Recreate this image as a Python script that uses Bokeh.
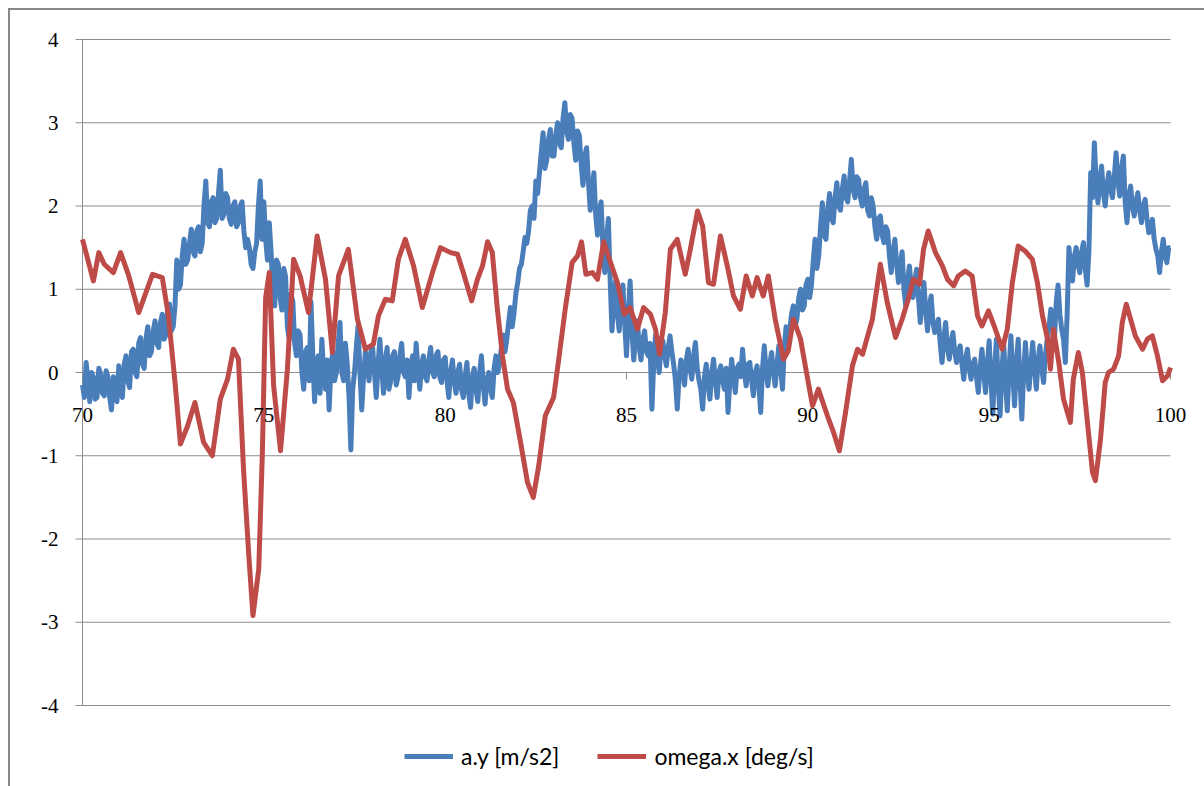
from bokeh.plotting import figure
from bokeh.models import Range1d, Legend, LegendItem, LabelSet, ColumnDataSource
from bokeh.embed import file_html
from bokeh.resources import INLINE

# ---------------- data ----------------
Y_TICKS = [-4, -3, -2, -1, 0, 1, 2, 3, 4]
Y_LABELS = ["-4", "-3", "-2", "-1", "0", "1", "2", "3", "4"]
X_TICKS = [70, 75, 80, 85, 90, 95, 100]
X_LABELS = ["70", "75", "80", "85", "90", "95", "100"]

# a.y [m/s2], read at t = 70.0, 70.1, ... 100.0
BLUE_Y_A = [
    -0.15, 0.12, -0.35, -0.05, -0.30, -0.02, -0.28, -0.05, -0.45, -0.10,
    0.08, -0.30, 0.20, -0.18, 0.28, -0.05, 0.42, 0.05, 0.55, 0.25,
    0.62, 0.30, 0.70, 0.45, 0.82, 0.55, 1.35, 1.05, 1.60, 1.35,
    1.72, 1.40, 1.75, 1.55, 2.30, 1.75, 2.10, 1.85, 2.43, 1.90,
    2.10, 1.78, 2.05, 1.80, 2.05, 1.50, 1.50, 1.25, 1.55, 2.30,
    2.05, 1.35, 1.45, 0.80, 1.30, 0.75, 1.15, 0.40, 0.85, 0.20,
    0.45, -0.20, 0.30, 0.85, -0.35, 0.20, 0.40, -0.20, -0.45, 0.25,
    0.00, 0.60, -0.10, 0.10, -0.93, 0.00, 0.56, -0.45, 0.25, -0.10,
    0.30, -0.30, 0.40, -0.25, 0.30, -0.10, 0.25, -0.05, 0.35, -0.05,
    -0.30, 0.20, 0.35, -0.20, 0.20, -0.10, 0.30, -0.05, 0.25, -0.12,
    0.18, -0.30, 0.15, -0.25, 0.10, -0.30, 0.12, -0.42, 0.05, -0.35,
    0.20, -0.38, 0.00, -0.30, 0.20, 0.10, 0.45, 0.40, 0.78, 0.72,
    1.08, 1.30, 1.62, 1.70, 2.00, 2.30, 2.40, 2.88, 2.55, 2.92,
    2.60, 3.00, 2.70, 3.24, 2.80, 3.05, 2.55, 2.85, 2.25, 2.70,
    1.95, 2.40, 1.65, 2.05, 1.20, 1.85, 0.50, 1.10, 0.50, 1.05,
    0.20, 1.10, 0.15, 0.62, 0.15, 0.50, 0.20, -0.44, 0.45, 0.00,
    0.38, 0.08, 0.44, 0.10, -0.44, 0.15, -0.15, 0.28, -0.08, 0.36,
    -0.10, -0.44, 0.10, -0.32, 0.16, -0.30, 0.08, -0.20, -0.48, 0.16,
    -0.24, 0.10, 0.28, -0.16, 0.12, -0.28, 0.08, -0.48, 0.32, -0.16,
    0.24, -0.16, 0.32, -0.20, 0.55, 0.50, 0.80, 0.65, 1.00, 0.80,
    1.12, 1.05, 1.60, 1.40, 2.04, 1.60, 2.15, 1.80, 2.28, 1.95,
    2.36, 2.05, 2.56, 2.10, 2.32, 2.00, 2.28, 1.88, 2.00, 1.60,
    1.88, 1.56, 1.70, 1.20, 1.60, 1.08, 1.45, 0.80, 1.28, 0.90,
    1.24, 0.60, 1.08, 0.50, 0.92, 0.48, 0.64, 0.12, 0.60, 0.16,
    0.48, 0.12, 0.32, -0.08, 0.28, -0.08, 0.16, -0.24, 0.28, -0.24,
    0.38, -0.50, 0.40, -0.52, 0.35, -0.46, 0.44, -0.40, 0.40, -0.56,
    0.36, -0.20, 0.36, -0.20, 0.32, -0.12, 0.40, 0.76, 0.40, 1.05,
    0.52, 0.12, 1.50, 1.10, 1.50, 1.20, 1.56, 1.05, 2.40, 2.76,
    2.04, 2.48, 2.00, 2.40, 2.10, 2.64, 2.12, 2.60, 1.80, 2.24,
    1.88, 2.16, 1.80, 2.08, 1.68, 1.84, 1.48, 1.20, 1.60, 1.32,
    1.50,
]
# a.y [m/s2], read at t = 70.05, 70.15, ... 99.95
BLUE_Y_B = [
    -0.30, -0.10, 0.00, -0.32, 0.05, -0.25, 0.02, -0.30, -0.05, -0.35,
    -0.20, 0.10, -0.10, 0.25, 0.00, 0.35, 0.10, 0.40, 0.20, 0.50,
    0.35, 0.60, 0.40, 0.75, 0.50, 0.80, 1.00, 1.40, 1.30, 1.55,
    1.45, 1.70, 1.45, 2.00, 1.80, 2.05, 1.80, 2.15, 1.85, 2.15,
    1.85, 2.00, 1.75, 2.00, 1.70, 1.60, 1.30, 1.45, 2.00, 1.60,
    1.60, 1.80, 0.95, 1.35, 0.90, 1.25, 0.55, 0.95, 0.35, 0.50,
    0.00, 0.25, -0.10, 0.20, 0.10, -0.25, 0.00, 0.15, 0.05, -0.10,
    0.35, 0.00, 0.35, -0.30, -0.20, 0.30, 0.00, -0.05, 0.10, 0.25,
    0.00, 0.10, 0.05, 0.15, -0.20, 0.20, -0.15, 0.20, 0.00, 0.15,
    0.05, -0.10, 0.05, 0.10, -0.05, 0.15, 0.00, 0.20, -0.05, 0.15,
    -0.10, 0.00, -0.10, 0.00, -0.20, -0.05, -0.25, -0.05, -0.20, 0.00,
    -0.15, -0.10, -0.20, 0.05, 0.00, 0.30, 0.25, 0.60, 0.55, 0.95,
    1.25, 1.45, 1.55, 1.95, 1.85, 2.15, 2.65, 2.45, 2.80, 2.60,
    2.85, 2.75, 3.05, 2.90, 3.10, 2.75, 2.90, 2.50, 2.60, 2.30,
    2.20, 1.90, 1.95, 1.50, 1.60, 1.10, 0.90, 0.70, 0.85, 0.60,
    0.70, 0.50, 0.45, 0.30, 0.40, 0.25, 0.35, 0.10, 0.20, 0.30,
    0.20, 0.30, 0.25, -0.10, -0.05, 0.05, 0.15, 0.05, 0.20, 0.05,
    -0.20, -0.05, -0.15, 0.00, -0.10, 0.00, -0.10, 0.05, -0.10, -0.05,
    0.05, -0.05, 0.00, 0.10, -0.10, 0.00, -0.15, 0.05, 0.00, 0.10,
    0.00, 0.10, 0.05, 0.30, 0.35, 0.70, 0.55, 0.90, 0.75, 1.05,
    0.90, 1.35, 1.25, 1.75, 1.65, 1.95, 1.85, 2.10, 2.00, 2.20,
    2.10, 2.30, 2.20, 2.35, 2.10, 2.20, 1.95, 2.10, 1.75, 1.85,
    1.65, 1.75, 1.40, 1.45, 1.30, 1.30, 1.00, 1.10, 1.05, 1.10,
    0.90, 0.85, 0.75, 0.80, 0.60, 0.55, 0.35, 0.40, 0.30, 0.35,
    0.25, 0.25, 0.10, 0.15, 0.05, 0.10, -0.05, 0.05, 0.00, 0.10,
    -0.10, 0.05, -0.15, 0.00, -0.10, 0.05, 0.00, 0.10, -0.10, 0.00,
    0.00, 0.10, 0.05, 0.15, 0.05, 0.20, 0.55, 0.60, 0.85, 0.70,
    0.40, 0.70, 1.25, 1.40, 1.30, 1.45, 1.25, 1.45, 2.10, 2.30,
    2.30, 2.15, 2.25, 2.20, 2.35, 2.30, 2.45, 2.05, 2.10, 2.00,
    2.05, 1.95, 2.00, 1.85, 1.75, 1.60, 1.40, 1.45, 1.40, 1.50,
]

# omega.x [deg/s]
RED_X = [
    70.0, 70.3, 70.45, 70.6, 70.85, 71.05, 71.27, 71.55, 71.93, 72.2,
    72.37, 72.56, 72.7, 72.9, 73.1, 73.34, 73.58, 73.8, 74.0, 74.16,
    74.3, 74.44, 74.58, 74.7, 74.86, 74.96, 75.05, 75.15, 75.27, 75.46,
    75.65, 75.82, 76.0, 76.23, 76.47, 76.7, 76.89, 77.06, 77.33, 77.58,
    77.8, 78.02, 78.16, 78.35, 78.54, 78.71, 78.9, 79.13, 79.37, 79.65,
    79.87, 80.15, 80.34, 80.5, 80.73, 80.89, 81.03, 81.17, 81.3, 81.44,
    81.58, 81.72, 81.88, 82.08, 82.27, 82.43, 82.58, 82.76, 82.99, 83.12,
    83.31, 83.5, 83.65, 83.76, 83.88, 84.06, 84.2, 84.37, 84.56, 84.75,
    84.94, 85.1, 85.3, 85.47, 85.66, 85.8, 85.91, 86.07, 86.21, 86.4,
    86.62, 86.76, 86.96, 87.1, 87.26, 87.4, 87.59, 87.78, 87.95, 88.14,
    88.3, 88.47, 88.6, 88.77, 88.91, 89.1, 89.33, 89.46, 89.6, 89.8,
    89.93, 90.13, 90.29, 90.54, 90.71, 90.87, 91.04, 91.23, 91.37, 91.51,
    91.65, 91.78, 92.0, 92.19, 92.42, 92.6, 92.77, 92.91, 93.08, 93.19,
    93.32, 93.52, 93.71, 93.85, 94.02, 94.15, 94.34, 94.53, 94.68, 94.8,
    94.98, 95.17, 95.36, 95.5, 95.64, 95.8, 95.99, 96.19, 96.33, 96.47,
    96.61, 96.69, 96.77, 96.92, 97.05, 97.24, 97.32, 97.46, 97.57, 97.71,
    97.85, 97.93, 98.07, 98.2, 98.29, 98.43, 98.57, 98.67, 98.78, 98.9,
    99.03, 99.23, 99.36, 99.5, 99.64, 99.78, 99.92, 100.0,
]
RED_Y = [
    1.60, 1.10, 1.44, 1.30, 1.20, 1.44, 1.17, 0.72, 1.18, 1.14,
    0.68, -0.16, -0.86, -0.64, -0.36, -0.84, -1.00, -0.32, -0.08, 0.28,
    0.16, -1.16, -2.16, -2.92, -2.36, -0.96, 0.90, 1.20, -0.16, -0.94,
    0.04, 1.36, 1.16, 0.72, 1.64, 1.12, 0.24, 1.16, 1.48, 0.64,
    0.28, 0.34, 0.68, 0.88, 0.86, 1.36, 1.60, 1.28, 0.78, 1.20,
    1.50, 1.44, 1.42, 1.20, 0.86, 1.12, 1.28, 1.57, 1.44, 0.76,
    0.20, -0.20, -0.36, -0.84, -1.32, -1.50, -1.12, -0.52, -0.30, 0.12,
    0.76, 1.32, 1.40, 1.57, 1.18, 1.20, 1.12, 1.57, 1.32, 1.08,
    0.70, 0.78, 0.52, 0.78, 0.70, 0.52, 0.22, 0.72, 1.48, 1.60,
    1.18, 1.48, 1.94, 1.76, 1.08, 1.06, 1.64, 1.28, 0.92, 0.76,
    1.16, 0.92, 1.14, 0.92, 1.16, 0.64, 0.16, 0.26, 0.64, 0.40,
    0.08, -0.40, -0.20, -0.52, -0.72, -0.94, -0.48, 0.08, 0.28, 0.22,
    0.44, 0.64, 1.30, 0.84, 0.42, 0.64, 0.88, 1.12, 1.06, 1.48,
    1.70, 1.44, 1.28, 1.12, 1.04, 1.16, 1.22, 1.16, 0.68, 0.56,
    0.74, 0.52, 0.28, 0.52, 1.08, 1.52, 1.46, 1.36, 1.08, 0.68,
    0.40, 0.04, 0.52, 0.12, -0.32, -0.60, -0.08, 0.24, 0.00, -0.60,
    -1.20, -1.30, -0.80, -0.12, 0.00, 0.04, 0.20, 0.60, 0.82, 0.64,
    0.44, 0.28, 0.40, 0.44, 0.20, -0.10, -0.04, 0.06,
]

# merge the two blue read-outs into one time-ordered series
BLUE_X, BLUE_Y = [], []
for i, ya in enumerate(BLUE_Y_A):
    BLUE_X.append(round(70 + 0.1 * i, 2))
    BLUE_Y.append(ya)
    if i < len(BLUE_Y_B):
        BLUE_X.append(round(70.05 + 0.1 * i, 2))
        BLUE_Y.append(BLUE_Y_B[i])

BLUE = "#4A7EBB"
RED = "#BE4B48"
GRID = "#8E8E8E"
FONT = "Lato"

# ---------------- layout constants (pixels inside the figure) ----------------
FIG_W, FIG_H = 1196, 778
AXIS_PX = 72            # pixel column of the value axis
TOP_PX = 29             # pixel row of the top gridline
PX_PER_X = 1088 / 30.0
PX_PER_Y = 666 / 8.0
X_MIN, X_MAX = X_TICKS[0], X_TICKS[-1]
Y_MIN, Y_MAX = min(Y_TICKS), max(Y_TICKS)

p = figure(
    width=FIG_W, height=FIG_H, margin=(8, 0, 0, 8),
    x_range=Range1d(X_MIN - AXIS_PX / PX_PER_X, X_MIN + (FIG_W - AXIS_PX) / PX_PER_X),
    y_range=Range1d(Y_MAX - (FIG_H - TOP_PX) / PX_PER_Y, Y_MAX + TOP_PX / PX_PER_Y),
    output_backend="svg", toolbar_location=None,
    min_border=0,
)
p.styles = {"border-left": "2px solid #888888", "border-top": "2px solid #888888"}
p.outline_line_color = None
p.background_fill_color = "white"
p.border_fill_color = "white"
p.axis.visible = False
p.grid.visible = False

tick_len_x = 7 / PX_PER_X
tick_len_y = 7 / PX_PER_Y
n_y = len(Y_TICKS)
n_x = len(X_TICKS)

# horizontal gridlines + their tick marks left of the value axis
p.segment(x0=[X_MIN - tick_len_x] * n_y, y0=Y_TICKS, x1=[X_MAX] * n_y, y1=Y_TICKS,
          line_color=GRID, line_width=1)
# value axis line
p.segment(x0=[X_MIN], y0=[Y_MIN], x1=[X_MIN], y1=[Y_MAX], line_color=GRID, line_width=1)
# category-axis tick marks hanging from the zero line
p.segment(x0=X_TICKS, y0=[0] * n_x, x1=X_TICKS, y1=[-tick_len_y] * n_x,
          line_color=GRID, line_width=1)

# tick labels
ysrc = ColumnDataSource(dict(x=[X_MIN] * n_y, y=Y_TICKS, text=Y_LABELS))
p.add_layout(LabelSet(x="x", y="y", text="text", source=ysrc,
                      text_font=FONT, text_font_size="21px", text_color="black",
                      text_align="right", text_baseline="middle", x_offset=-24))
xsrc = ColumnDataSource(dict(x=X_TICKS, y=[0] * n_x, text=X_LABELS))
p.add_layout(LabelSet(x="x", y="y", text="text", source=xsrc,
                      text_font=FONT, text_font_size="21px", text_color="black",
                      text_align="center", text_baseline="middle", y_offset=-42))

rb = p.line(BLUE_X, BLUE_Y, line_color=BLUE, line_width=5, line_join="round")
rr = p.line(RED_X, RED_Y, line_color=RED, line_width=5, line_join="round")

legend = Legend(
    items=[LegendItem(label="a.y [m/s2]", renderers=[rb]),
           LegendItem(label="omega.x [deg/s]", renderers=[rr])],
    orientation="horizontal", location=(394, 18),
    label_text_font=FONT, label_text_font_size="23px", label_text_color="black",
    glyph_width=49, glyph_height=20, label_standoff=8, spacing=38,
    padding=0, margin=0, border_line_color=None, background_fill_alpha=0,
)
p.add_layout(legend)

open("out.html", "w").write(file_html(p, INLINE))
